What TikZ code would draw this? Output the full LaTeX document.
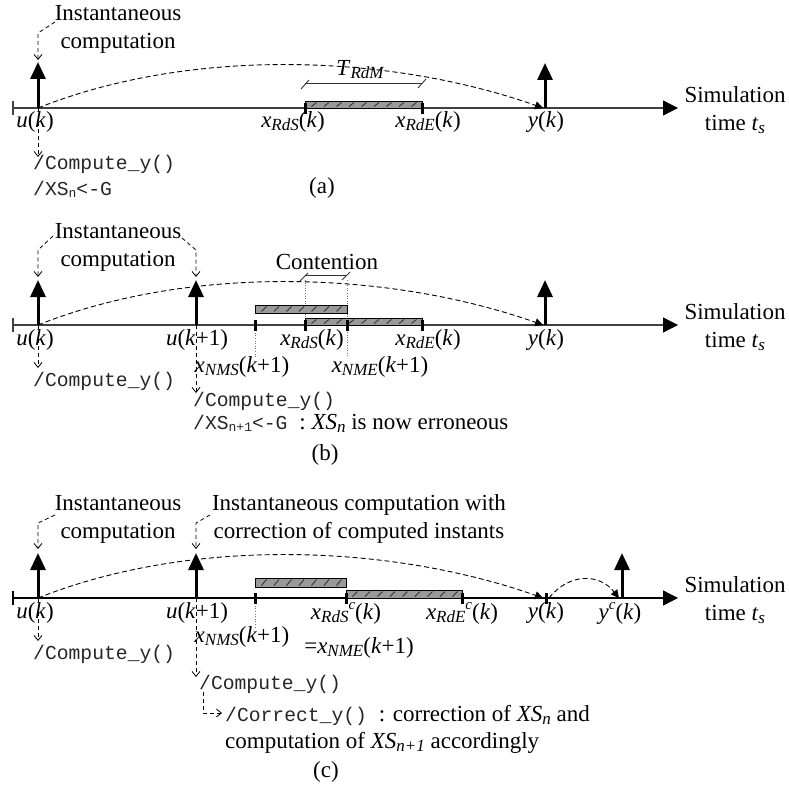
\documentclass[tikz,border=0pt]{standalone}
\usepackage{fontspec}
\setmainfont{Liberation Serif}
\setmonofont{Liberation Mono}
\usetikzlibrary{arrows.meta}
\newcommand{\lsub}[1]{\raisebox{-0.28ex}{\fontsize{17}{17}\selectfont\itshape #1}}
\newcommand{\lsup}[1]{\raisebox{0.95ex}{\fontsize{15}{15}\selectfont\itshape #1}}
\newcommand{\tsub}[1]{\raisebox{-0.2ex}{\fontsize{13}{13}\selectfont\ttfamily #1}}
\newcommand{\serift}{\fontsize{23}{28}\selectfont\rmfamily}
\newcommand{\mybar}[4]{%
  \draw[barst] (#1,#3) rectangle (#2,#4);
  \pgfmathsetmacro\xs{#1+9}\pgfmathsetmacro\xn{#1+21.5}\pgfmathsetmacro\xe{#2-3}
  \foreach \xx in {\xs,\xn,...,\xe}{\draw[hatch] (\xx-2.5,#4-1.5) -- (\xx+2.5,#3+1.5);}
}
\tikzset{
  txt/.style={font=\fontsize{23}{28}\selectfont, inner sep=0pt, align=center},
  mono/.style={font=\fontsize{19.7}{24}\selectfont\ttfamily, inner sep=0pt, anchor=west, text=black!85},
  lbl/.style={font=\fontsize{23}{28}\selectfont, inner sep=0pt},
  axisln/.style={draw=black!75, line width=1.3pt, -{Triangle[length=15pt,width=15pt,color=black]}},
  evt/.style={line width=3pt, -{Triangle[length=17pt,width=15pt]}},
  tickm/.style={line width=3pt},
  flow/.style={dash pattern=on 5pt off 3pt, line width=0.9pt, -{Triangle[length=8pt,width=8pt]}},
  lead/.style={draw=black, dash pattern=on 4pt off 3pt, line width=0.8pt, -{Straight Barb[length=5pt,width=8pt]}},
  barst/.style={draw=black, fill=black!40, line width=0.8pt},
  hatch/.style={draw=black!80, line width=0.9pt},
  dotv/.style={draw=black!55, dotted, line width=0.6pt},
  brk/.style={draw=black!80, line width=0.9pt},
}
\begin{document}
\begin{tikzpicture}[x=1pt,y=-1pt]
\useasboundingbox (0,0) rectangle (789,789);
% ================= (a)
\coordinate (a0) at (13,108); \coordinate (aE) at (678,108);
\coordinate (au) at (38,108); \coordinate (auT) at (38,62);
\coordinate (ay) at (545,108); \coordinate (ayT) at (545,63);
\coordinate (ayc) at (543,108);
\draw[draw=black!75,line width=1.3pt] (13,101) -- (13,115);
\draw[axisln] (a0) -- (aE);
\mybar{305}{422}{101}{108}
\draw[tickm] (305,103) -- (305,114);
\draw[tickm] (422,103) -- (422,114);
\draw[brk] (305,83) -- (422,83);
\draw[brk] (301,89) -- (309,80);
\draw[brk] (418,88) -- (426,79);
\draw[flow] (au) .. controls +(153,-61) and +(-153,-54) .. (ayc);
\draw[evt] (au) -- (auT);
\draw[evt] (ay) -- (ayT);
\node[lbl] (tr) at (360,70) {\textit{T}\lsub{RdM}};
\node[txt] (ia) at (118,29) {Instantaneous\\computation};
\coordinate (ia1) at (55,22); \coordinate (ia2) at (38,33); \coordinate (ia3) at (38,60);
\draw[lead] (ia1) -- (ia2) -- (ia3);
\coordinate (ad) at (38,157);
\draw[lead] (au) -- (ad);
\node[lbl] (lua) at (35,122) {\textit{u}(\textit{k})};
\node[lbl] (lrsa) at (293,122) {\textit{x}\lsub{RdS}(\textit{k})};
\node[lbl] (lrea) at (428,122) {\textit{x}\lsub{RdE}(\textit{k})};
\node[lbl] (lya) at (546,122) {\textit{y}(\textit{k})};
\node[txt] (sa) at (735,110) {Simulation\\time \textit{t}\lsub{s}};
\node[mono] (ca) at (33,164) {/Compute\_y()};
\node[mono] (xa) at (33,189) {/XS\tsub{n}<-G};
\node[lbl] (capa) at (322,188) {(a)};
% ================= (b)
\coordinate (b0) at (13,325); \coordinate (bE) at (678,325);
\coordinate (bu) at (38,325); \coordinate (buT) at (38,280);
\coordinate (bu1) at (196,325); \coordinate (bu1T) at (196,280);
\coordinate (by) at (545,325); \coordinate (byT) at (545,280);
\coordinate (byc) at (543,325);
\draw[draw=black!75,line width=1.3pt] (13,318) -- (13,332);
\draw[axisln] (b0) -- (bE);
\draw[dotv] (255,325) -- (255,357);
\draw[dotv] (305,280) -- (305,318);
\draw[dotv] (347,280) -- (347,357);
\mybar{255}{347}{305}{313}
\mybar{305}{422}{318}{325}
\foreach \tx in {255,305,347,422}{\draw[tickm] (\tx,320) -- (\tx,331);}
\draw[brk] (305,275) -- (347,275);
\draw[brk] (300,281) -- (308,273);
\draw[brk] (342,280) -- (350,272);
\node[lbl] (cont) at (327,262) {Contention};
\draw[flow] (bu) .. controls +(153,-61) and +(-153,-54) .. (byc);
\draw[evt] (bu) -- (buT);
\draw[evt] (bu1) -- (bu1T);
\draw[evt] (by) -- (byT);
\node[txt] (ib) at (118,247) {Instantaneous\\computation};
\coordinate (ib1) at (53,236); \coordinate (ib2) at (38,250); \coordinate (ib3) at (38,277);
\coordinate (ib4) at (182,238); \coordinate (ib5) at (196,250); \coordinate (ib6) at (196,277);
\draw[lead] (ib1) -- (ib2) -- (ib3);
\draw[lead] (ib4) -- (ib5) -- (ib6);
\coordinate (bd) at (38,368); \coordinate (bd1) at (196,393);
\draw[lead] (bu) -- (bd);
\draw[lead] (bu1) -- (bd1);
\node[lbl] (lub) at (35,340) {\textit{u}(\textit{k})};
\node[lbl] (lu1b) at (197,340) {\textit{u}(\textit{k}+1)};
\node[lbl] (lrsb) at (312,340) {\textit{x}\lsub{RdS}(\textit{k})};
\node[lbl] (lreb) at (428,340) {\textit{x}\lsub{RdE}(\textit{k})};
\node[lbl] (lyb) at (546,340) {\textit{y}(\textit{k})};
\node[lbl] (lnsb) at (242,367) {\textit{x}\lsub{NMS}(\textit{k}+1)};
\node[lbl] (lneb) at (380,367) {\textit{x}\lsub{NME}(\textit{k}+1)};
\node[txt] (sb) at (735,327) {Simulation\\time \textit{t}\lsub{s}};
\node[mono] (cb) at (33,381) {/Compute\_y()};
\node[mono] (cb1) at (193,401) {/Compute\_y()};
\node[mono] (xb1) at (193,423) {/XS\tsub{n+1}<-G {\serift\color{black} : \textit{XS}\lsub{n} is now erroneous}};
\node[lbl] (capb) at (325,455) {(b)};
% ================= (c)
\coordinate (c0) at (13,598); \coordinate (cE) at (678,598);
\coordinate (cu) at (38,598); \coordinate (cuT) at (38,553);
\coordinate (cu1) at (196,598); \coordinate (cu1T) at (196,553);
\coordinate (cyk) at (546,598); \coordinate (cyc) at (543,598);
\coordinate (cyk2) at (549,598); \coordinate (cycc) at (619,598);
\coordinate (cy) at (622,598); \coordinate (cyT) at (622,553);
\draw[draw=black,line width=1.3pt] (13,591) -- (13,605);
\draw[axisln,draw=black] (c0) -- (cE);
\draw[dotv] (255,598) -- (255,627);
\mybar{255}{346}{578}{587}
\mybar{346}{462}{590}{598}
\foreach \tx in {255,346,462,546}{\draw[tickm] (\tx,593) -- (\tx,604);}
\draw[flow] (cu) .. controls +(153,-61) and +(-153,-54) .. (cyc);
\draw[flow] (cyk2) .. controls +(20,-25) and +(-20,-25) .. (cycc);
\draw[evt] (cu) -- (cuT);
\draw[evt] (cu1) -- (cu1T);
\draw[evt] (cy) -- (cyT);
\node[txt] (ic) at (118,519) {Instantaneous\\computation};
\node[txt] (ic2) at (359,519) {Instantaneous computation with\\correction of computed instants};
\coordinate (ic1) at (55,515); \coordinate (ic3) at (38,523); \coordinate (ic4) at (38,549);
\coordinate (ic5) at (210,515); \coordinate (ic6) at (196,523); \coordinate (ic7) at (196,549);
\draw[lead] (ic1) -- (ic3) -- (ic4);
\draw[lead] (ic5) -- (ic6) -- (ic7);
\coordinate (cd) at (38,641); \coordinate (cd1) at (196,677);
\draw[lead] (cu) -- (cd);
\draw[lead] (cu1) -- (cd1);
\node[lbl] (luc) at (35,613) {\textit{u}(\textit{k})};
\node[lbl] (lu1c) at (197,613) {\textit{u}(\textit{k}+1)};
\node[lbl] (lrsc) at (346,613) {\textit{x}\lsub{RdS}\lsup{c}(\textit{k})};
\node[lbl] (lrec) at (462,613) {\textit{x}\lsub{RdE}\lsup{c}(\textit{k})};
\node[lbl] (lyc) at (546,613) {\textit{y}(\textit{k})};
\node[lbl] (lycc) at (620,613) {\textit{y}\lsup{c}(\textit{k})};
\node[lbl] (lnsc) at (242,637) {\textit{x}\lsub{NMS}(\textit{k}+1)};
\node[lbl] (lnec) at (359,648) {=\textit{x}\lsub{NME}(\textit{k}+1)};
\node[txt] (sc) at (735,600) {Simulation\\time \textit{t}\lsub{s}};
\node[mono] (cc) at (33,654) {/Compute\_y()};
\node[mono] (cc1) at (199,684) {/Compute\_y()};
\coordinate (L1) at (203,692); \coordinate (L2) at (203,713); \coordinate (L3) at (222,713);
\draw[lead] (L1) -- (L2) -- (L3);
\node[mono] (cr) at (225,715) {/Correct\_y() {\serift\color{black} : correction of \textit{XS}\lsub{n} and}};
\node[lbl,anchor=west] (cr2) at (225,743) {computation of \textit{XS}\lsub{n+1} accordingly};
\node[lbl] (capc) at (326,772) {(c)};
\end{tikzpicture}
\end{document}
